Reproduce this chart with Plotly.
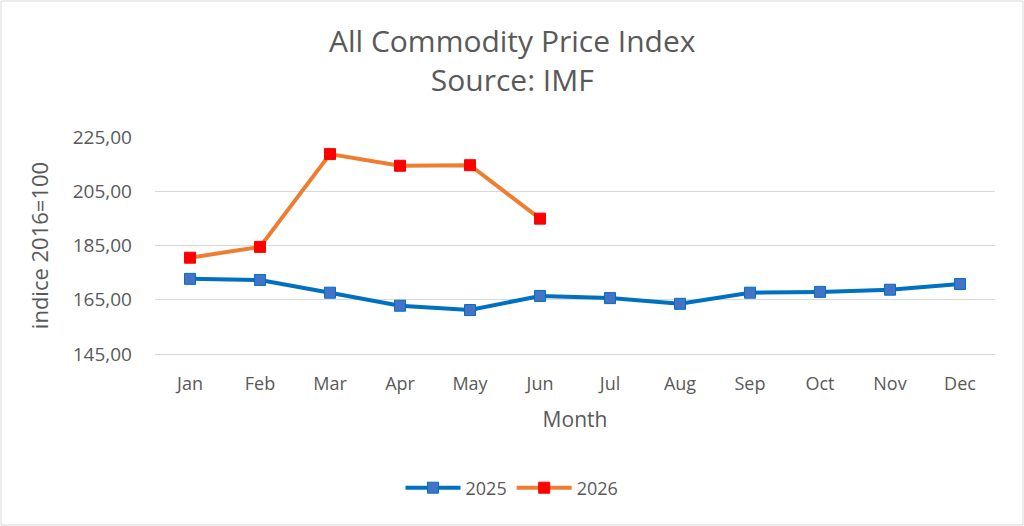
import plotly.graph_objects as go

months = ["Jan", "Feb", "Mar", "Apr", "May", "Jun", "Jul", "Aug", "Sep", "Oct", "Nov", "Dec"]
values_2025 = [172.7, 172.3, 167.6, 162.8, 161.2, 166.4, 165.6, 163.5, 167.6, 167.9, 168.7, 170.8]
values_2026 = [180.5, 184.5, 218.7, 214.4, 214.6, 194.9]
y_ticks = [145, 165, 185, 205, 225]

FONT = "Open Sans, sans-serif"
GREY = "#595959"

fig = go.Figure()
fig.add_trace(go.Scatter(
    x=months, y=values_2025, name="2025", mode="lines+markers",
    line=dict(color="#0070C0", width=4),
    marker=dict(symbol="square", size=11, color="#4472C4", line=dict(color="#0070C0", width=1)),
))
fig.add_trace(go.Scatter(
    x=months[:len(values_2026)], y=values_2026, name="2026", mode="lines+markers",
    line=dict(color="#ED7D31", width=4),
    marker=dict(symbol="square", size=11, color="#FF0000", line=dict(color="#FF0000", width=1)),
))

L, R, T, B = 155, 995, 137, 354
pw, ph = R - L, B - T
def px(x): return (x - L) / pw
def py(y): return (B - y) / ph

fig.update_layout(
    width=1024, height=526,
    margin=dict(l=L, r=1024 - R, t=T, b=526 - B),
    paper_bgcolor="white", plot_bgcolor="white",
    separators=",.",
    font=dict(family=FONT, color=GREY, size=18),
    xaxis=dict(
        type="category", categoryorder="array", categoryarray=months,
        range=[-0.5, 11.5], showgrid=False, showline=True, linecolor="#d9d9d9", linewidth=1,
        ticks="", tickfont=dict(size=18, color=GREY), ticklabelstandoff=13,
        title=dict(text="Month", font=dict(size=21, color=GREY), standoff=18),
        fixedrange=True,
    ),
    yaxis=dict(
        range=[145, 225], tickvals=y_ticks, tickformat=".2f",
        showgrid=True, gridcolor="#d9d9d9", gridwidth=1, zeroline=False, showline=False,
        ticks="", tickfont=dict(size=19, color=GREY), ticklabelstandoff=22,
        title=dict(text="indice 2016=100", font=dict(size=22, color=GREY), standoff=18),
        fixedrange=True,
    ),
    legend=dict(orientation="h", xref="container", yref="container", x=0.5, xanchor="center",
                y=1 - 488 / 526, yanchor="middle", font=dict(size=18, color=GREY),
                itemwidth=55),
    annotations=[dict(text="All Commodity Price Index<br>Source: IMF", xref="paper", yref="paper",
                      x=px(512), y=py(60), xanchor="center", yanchor="middle", showarrow=False,
                      font=dict(size=30, color=GREY, family=FONT), align="center")],
    shapes=[dict(type="rect", xref="paper", yref="paper", x0=px(1), x1=px(1023), y0=py(525), y1=py(1),
                 line=dict(color="#d9d9d9", width=1), fillcolor="rgba(0,0,0,0)", layer="below")],
)

fig.write_html("out.html")
